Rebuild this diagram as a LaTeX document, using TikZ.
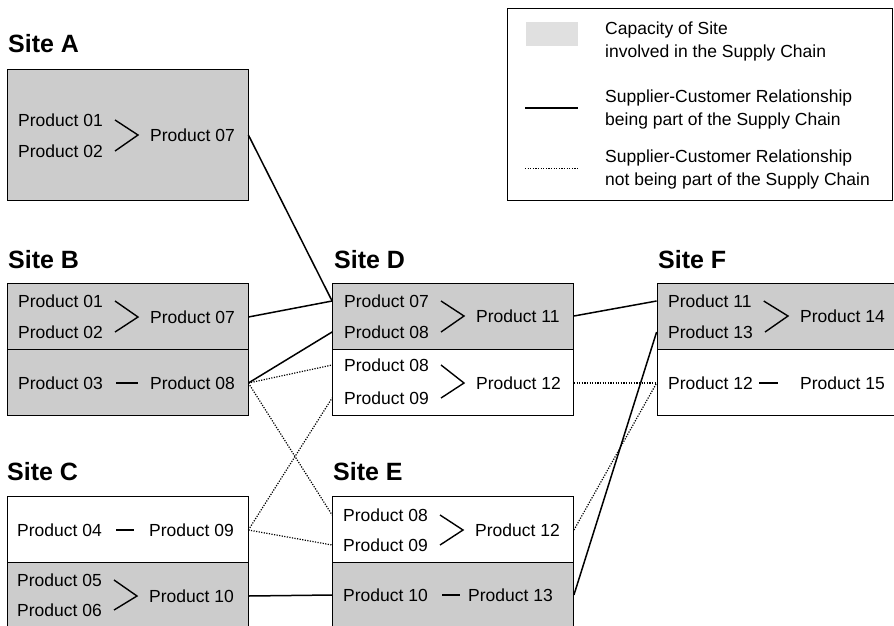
\documentclass[tikz,border=0pt]{standalone}
\usepackage{fontspec}
\setmainfont{Liberation Sans}
\usetikzlibrary{positioning}

\begin{document}
\begin{tikzpicture}[x=1pt, y=-1pt,
    every node/.style={inner sep=0pt},
    prod/.style={anchor=west, font=\fontsize{17.5}{21}\selectfont},
    site/.style={anchor=west, font=\fontsize{25}{30}\selectfont\bfseries},
    capbox/.style={draw, line width=.8pt, fill=black!20, minimum width=241pt, minimum height=66pt},
    freebox/.style={draw, line width=.8pt, fill=white, minimum width=241pt, minimum height=66pt},
    chain/.style={line width=1.5pt},
    nochain/.style={line width=1.2pt, dash pattern=on 1.2pt off 1.4pt},
    merge/.style={line width=1.4pt}]
        \useasboundingbox (0, 0) rectangle (894, 625);
        \clip (0, 0) rectangle (894, 625);
        % legend
        \node[draw, line width=.8pt, minimum width=385pt, minimum height=192pt] (legend) at (699.5, 104) {};
        \node[fill=black!12, minimum width=52pt, minimum height=24pt] (swatch) at (552, 34) {};
        \coordinate (l1) at (525, 108);
        \coordinate (l2) at (578, 108);
        \coordinate (l3) at (525, 168);
        \coordinate (l4) at (578, 168);
        \draw[line width=2pt] (l1) -- (l2);
        \draw[nochain, line width=1pt] (l3) -- (l4);
        \node[anchor=north west, align=left, font=\fontsize{17.5}{23}\selectfont] (t1) at (605, 22) {Capacity of Site\\involved in the Supply Chain};
        \node[anchor=north west, align=left, font=\fontsize{17.5}{23}\selectfont] (t2) at (605, 90) {Supplier-Customer Relationship\\being part of the Supply Chain};
        \node[anchor=north west, align=left, font=\fontsize{17.5}{23}\selectfont] (t3) at (605, 150) {Supplier-Customer Relationship\\not being part of the Supply Chain};
        % sites
        \node[site] (ta) at (8, 44) {Site A};
        \node[site] (tb) at (8, 260) {Site B};
        \node[site] (tc) at (7, 472) {Site C};
        \node[site] (td) at (334, 260) {Site D};
        \node[site] (te) at (333, 472) {Site E};
        \node[site] (tf) at (658, 260) {Site F};
        \node[capbox, minimum height=131pt] (sa) at (127.5, 134.5) {};
        \node[capbox] (sb1) at (127.5, 316.5) {};
        \node[capbox] (sb2) at (127.5, 382.5) {};
        \node[freebox] (sc1) at (127.5, 529.5) {};
        \node[capbox, minimum height=80pt] (sc2) at (127.5, 602.5) {};
        \node[capbox] (sd1) at (453, 316) {};
        \node[freebox] (sd2) at (453, 382) {};
        \node[freebox] (se1) at (453, 529.5) {};
        \node[capbox, minimum height=80pt] (se2) at (453, 602.5) {};
        \node[capbox, minimum width=260pt] (sf1) at (787, 316) {};
        \node[freebox, minimum width=260pt] (sf2) at (787, 382) {};
        % products
        \node[prod] (a1) at (18, 120) {Product 01};
        \node[prod] (a2) at (18, 151) {Product 02};
        \node[prod] (a7) at (150, 135) {Product 07};
        \node[prod] (b1) at (18, 301) {Product 01};
        \node[prod] (b2) at (18, 332) {Product 02};
        \node[prod] (b7) at (150, 317) {Product 07};
        \node[prod] (b3) at (18, 383) {Product 03};
        \node[prod] (b8) at (150, 383) {Product 08};
        \node[prod] (c4) at (17, 530) {Product 04};
        \node[prod] (c9) at (149, 530) {Product 09};
        \node[prod] (c5) at (17, 580) {Product 05};
        \node[prod] (c6) at (17, 610) {Product 06};
        \node[prod] (c10) at (149, 596) {Product 10};
        \node[prod] (d7) at (344, 301) {Product 07};
        \node[prod] (d8) at (344, 332) {Product 08};
        \node[prod] (d11) at (476, 316) {Product 11};
        \node[prod] (d8l) at (344, 365) {Product 08};
        \node[prod] (d9) at (344, 398) {Product 09};
        \node[prod] (d12) at (476, 383) {Product 12};
        \node[prod] (e8) at (343, 515) {Product 08};
        \node[prod] (e9) at (343, 545) {Product 09};
        \node[prod] (e12) at (475, 530) {Product 12};
        \node[prod] (e10) at (343, 595) {Product 10};
        \node[prod] (e13) at (468, 595) {Product 13};
        \node[prod] (f11) at (668, 301) {Product 11};
        \node[prod] (f13) at (668, 332) {Product 13};
        \node[prod] (f14) at (800, 316) {Product 14};
        \node[prod] (f12) at (668, 383) {Product 12};
        \node[prod] (f15) at (800, 383) {Product 15};
        % merges and links inside a site
        \draw[merge] ([xshift=12pt]a1.east) -- ([xshift=-12pt]a7.west) -- ([xshift=12pt]a2.east);
        \draw[merge] ([xshift=12pt]b1.east) -- ([xshift=-12pt]b7.west) -- ([xshift=12pt]b2.east);
        \draw[merge] ([xshift=12pt]c5.east) -- ([xshift=-12pt]c10.west) -- ([xshift=12pt]c6.east);
        \draw[merge] ([xshift=12pt]d7.east) -- ([xshift=-12pt]d11.west) -- ([xshift=12pt]d8.east);
        \draw[merge] ([xshift=12pt]d8l.east) -- ([xshift=-12pt]d12.west) -- ([xshift=12pt]d9.east);
        \draw[merge] ([xshift=12pt]e8.east) -- ([xshift=-12pt]e12.west) -- ([xshift=12pt]e9.east);
        \draw[merge] ([xshift=12pt]f11.east) -- ([xshift=-12pt]f14.west) -- ([xshift=12pt]f13.east);
        \draw[merge] ([xshift=13pt]b3.east) -- ([xshift=-12pt]b8.west);
        \draw[merge] ([xshift=14pt]c4.east) -- ([xshift=-15pt]c9.west);
        \draw[merge] ([xshift=14pt]e10.east) -- ([xshift=-8pt]e13.west);
        \draw[merge] ([xshift=6pt]f12.east) -- ([xshift=-22pt]f15.west);
        % relationships between sites
        \draw[chain] (a7 -| sa.east) -- (d7 -| sd1.west);
        \draw[chain] (b7 -| sb1.east) -- (d7 -| sd1.west);
        \draw[chain] (b8 -| sb2.east) -- (d8 -| sd1.west);
        \draw[chain] (c10 -| sc2.east) -- (e10 -| se2.west);
        \draw[chain] (d11 -| sd1.east) -- (f11 -| sf1.west);
        \draw[chain] (e13 -| se2.east) -- (f13 -| sf1.west);
        \draw[nochain] (b8 -| sb2.east) -- (d8l -| sd2.west);
        \draw[nochain] (b8 -| sb2.east) -- (e8 -| se1.west);
        \draw[nochain] (c9 -| sc1.east) -- (d9 -| sd2.west);
        \draw[nochain] (c9 -| sc1.east) -- (e9 -| se1.west);
        \draw[nochain] (d12 -| sd2.east) -- (f12 -| sf2.west);
        \draw[nochain] (e12 -| se1.east) -- (f12 -| sf2.west);
      \end{tikzpicture}
\end{document}
